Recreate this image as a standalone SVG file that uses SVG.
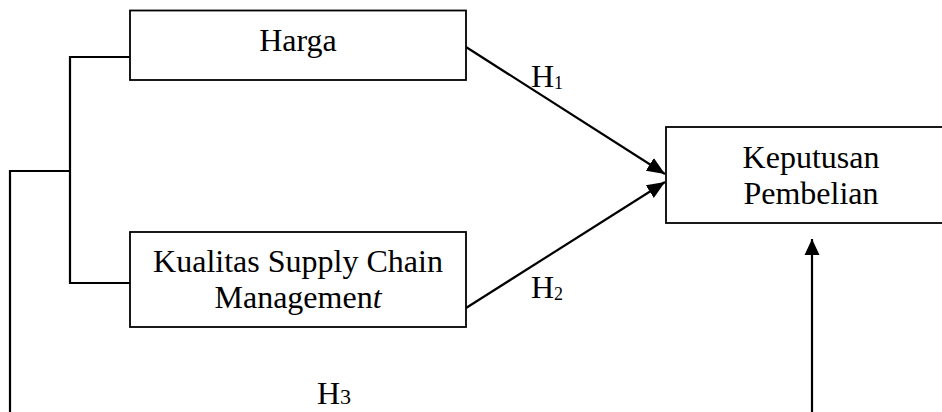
<svg xmlns="http://www.w3.org/2000/svg" width="942" height="412" viewBox="0 0 942 412">
<style>
  .box { fill: #ffffff; stroke: #000000; stroke-width: 1.8; }
  .line { fill: none; stroke: #000000; stroke-width: 2.2; }
  .t { font-family: "Liberation Serif", "Times New Roman", serif; font-size: 32px; fill: #000000; }
  .sub { font-size: 18px; }
  .sub3 { font-size: 22px; }
</style>
<defs>
  <marker id="ah" markerUnits="userSpaceOnUse" markerWidth="19" markerHeight="17" refX="18" refY="8.5" orient="auto">
    <polygon points="0,1 18,8.5 0,16" fill="#000000"/>
  </marker>
  <marker id="av" markerUnits="userSpaceOnUse" markerWidth="17" markerHeight="17" refX="16" refY="8.5" orient="auto">
    <polygon points="0,1 16,8.5 0,16" fill="#000000"/>
  </marker>
</defs>
<rect width="942" height="412" fill="#ffffff"/>
<g id="connectors">
  <polyline class="line" points="130,57 70,57 70,283 130,283"/>
  <polyline class="line" points="70,171 10,171 10,412"/>
  <line class="line" x1="466" y1="47" x2="665" y2="174" marker-end="url(#ah)"/>
  <line class="line" x1="466" y1="308" x2="665" y2="182" marker-end="url(#ah)"/>
  <line class="line" x1="812" y1="412" x2="812" y2="239" marker-end="url(#av)"/>
</g>
<g id="node-harga">
  <rect class="box" x="130" y="10.5" width="336" height="69.5"/>
  <text class="t" x="298" y="51" text-anchor="middle">Harga</text>
</g>
<g id="node-kscm">
  <rect class="box" x="130" y="232" width="336" height="95"/>
  <text class="t" x="298" y="272" text-anchor="middle">Kualitas Supply Chain</text>
  <text class="t" x="298" y="308" text-anchor="middle">Managemen<tspan font-style="italic">t</tspan></text>
</g>
<g id="node-keputusan">
  <rect class="box" x="666" y="127" width="300" height="96"/>
  <text class="t" x="811" y="168" text-anchor="middle">Keputusan</text>
  <text class="t" x="811" y="204" text-anchor="middle">Pembelian</text>
</g>
<g id="labels">
  <text class="t" x="531" y="87">H<tspan class="sub" dy="1.5">1</tspan></text>
  <text class="t" x="531" y="298">H<tspan class="sub" dy="1.5">2</tspan></text>
  <text class="t" x="317" y="404">H<tspan class="sub3">3</tspan></text>
</g>
</svg>
